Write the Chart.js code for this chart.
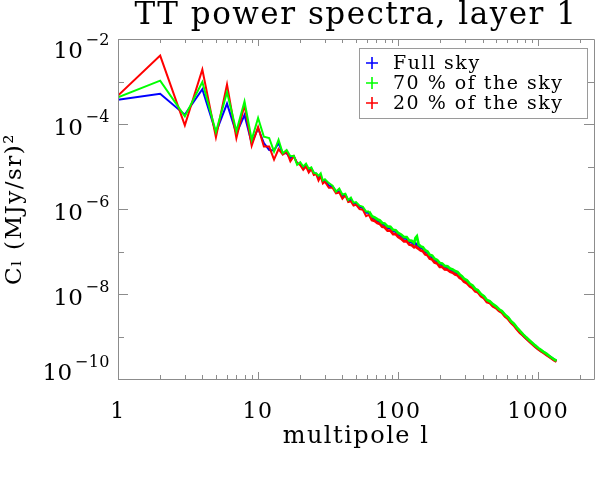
<!DOCTYPE html>
<html>
<head>
<meta charset="utf-8">
<script src="https://cdn.jsdelivr.net/npm/chart.js@4.4.1/dist/chart.umd.min.js"></script>
<style>
  html, body { margin: 0; padding: 0; background: #ffffff; }
  #wrap { width: 598px; height: 481px; }
</style>
</head>
<body>
<div id="wrap"><canvas id="c" width="598" height="481"></canvas></div>
<script>
// ---------- data ----------
const multipoles = [
  1,2,3,4,5,6,7,8,9,10,11,12,13,14,15,16,17,18,19,20,21,22,23,24,25,26,27,28,29,30,
  32,34,36,38,40,42,44,46,48,50,
  53,56,59,62,65,68,71,74,77,80,
  84,88,92,96,100,105,110,115,120,125,
  130,133,136,140,145,150,156,162,168,175,
  182,190,198,206,215,225,235,245,255,265,
  275,285,295,310,325,340,355,370,390,410,
  430,450,475,500,525,550,580,610,640,670,
  700,740,780,820,860,900,950,1000,1050,1100,
  1150,1200,1250,1300,1350
];

const fullSky = [
  3.72e-4,5.13e-4,1.66e-4,6.61e-4,6.31e-5,3.02e-4,6.03e-5,1.62e-4,3.55e-5,7.94e-5,
  3.55e-5,2.45e-5,2.40e-5,3.55e-5,2.04e-5,2.04e-5,1.58e-5,1.74e-5,1.20e-5,1.17e-5,
  9.33e-6,1.05e-5,8.32e-6,8.91e-6,7.08e-6,6.76e-6,5.50e-6,6.03e-6,4.37e-6,4.68e-6,
  3.55e-6,3.39e-6,2.63e-6,2.63e-6,2.04e-6,2.14e-6,1.62e-6,1.66e-6,1.32e-6,1.38e-6,
  1.12e-6,1.05e-6,8.13e-7,8.13e-7,6.31e-7,5.89e-7,5.37e-7,5.01e-7,4.37e-7,4.27e-7,
  3.63e-7,3.55e-7,3.02e-7,2.95e-7,2.57e-7,2.34e-7,2.04e-7,2.04e-7,1.70e-7,1.66e-7,
  1.48e-7,1.55e-7,1.45e-7,1.35e-7,1.23e-7,1.17e-7,1.00e-7,9.33e-8,7.76e-8,7.41e-8,
  6.31e-8,5.89e-8,5.01e-8,4.90e-8,4.27e-8,4.17e-8,3.72e-8,3.55e-8,3.24e-8,3.09e-8,
  2.69e-8,2.45e-8,2.14e-8,1.95e-8,1.62e-8,1.48e-8,1.23e-8,1.15e-8,9.33e-9,8.32e-9,
  6.76e-9,6.46e-9,5.37e-9,4.90e-9,4.17e-9,3.80e-9,3.09e-9,2.69e-9,2.19e-9,1.91e-9,
  1.58e-9,1.29e-9,1.07e-9,9.12e-10,7.94e-10,6.92e-10,5.89e-10,5.13e-10,4.57e-10,4.17e-10,
  3.72e-10,3.39e-10,3.09e-10,2.82e-10,2.63e-10
];

const sky70 = [
  4.27e-4,1.05e-3,1.51e-4,9.77e-4,6.46e-5,5.62e-4,6.76e-5,3.39e-4,4.27e-5,1.38e-4,
  5.01e-5,4.68e-5,2.24e-5,4.27e-5,2.04e-5,2.45e-5,1.74e-5,1.78e-5,1.10e-5,1.26e-5,
  1.00e-5,1.17e-5,8.91e-6,9.55e-6,7.08e-6,6.92e-6,6.03e-6,6.92e-6,4.68e-6,5.01e-6,
  4.07e-6,3.55e-6,2.57e-6,3.02e-6,2.19e-6,2.29e-6,1.62e-6,1.86e-6,1.41e-6,1.45e-6,
  1.20e-6,1.12e-6,8.71e-7,8.71e-7,6.76e-7,6.31e-7,5.75e-7,5.37e-7,4.68e-7,4.57e-7,
  3.89e-7,3.80e-7,3.24e-7,3.16e-7,2.75e-7,2.51e-7,2.19e-7,2.19e-7,1.82e-7,1.78e-7,
  1.58e-7,2.09e-7,2.29e-7,1.45e-7,1.32e-7,1.26e-7,1.07e-7,1.00e-7,8.32e-8,7.94e-8,
  6.76e-8,6.31e-8,5.37e-8,5.25e-8,4.57e-8,4.47e-8,3.98e-8,3.80e-8,3.47e-8,3.31e-8,
  2.88e-8,2.63e-8,2.29e-8,2.09e-8,1.74e-8,1.58e-8,1.32e-8,1.23e-8,1.00e-8,8.91e-9,
  7.24e-9,6.76e-9,5.75e-9,5.13e-9,4.37e-9,3.98e-9,3.24e-9,2.82e-9,2.29e-9,2.00e-9,
  1.66e-9,1.35e-9,1.12e-9,9.55e-10,8.32e-10,7.24e-10,6.17e-10,5.37e-10,4.79e-10,4.27e-10,
  3.89e-10,3.47e-10,3.16e-10,2.88e-10,2.69e-10
];

const sky20 = [
  4.68e-4,4.07e-3,9.33e-5,1.91e-3,4.90e-5,8.51e-4,4.68e-5,2.82e-4,3.09e-5,8.51e-5,
  2.95e-5,2.95e-5,1.45e-5,2.57e-5,1.91e-5,2.24e-5,1.32e-5,1.74e-5,1.20e-5,1.07e-5,
  8.32e-6,1.00e-5,7.24e-6,8.71e-6,6.31e-6,6.61e-6,4.68e-6,5.89e-6,3.98e-6,4.37e-6,
  3.16e-6,3.16e-6,2.34e-6,2.45e-6,1.74e-6,2.09e-6,1.45e-6,1.51e-6,1.20e-6,1.26e-6,
  1.00e-6,9.55e-7,6.76e-7,7.41e-7,5.50e-7,5.25e-7,4.68e-7,4.47e-7,3.80e-7,3.72e-7,
  3.09e-7,3.09e-7,2.57e-7,2.57e-7,2.19e-7,2.00e-7,1.74e-7,1.74e-7,1.45e-7,1.41e-7,
  1.26e-7,1.32e-7,1.23e-7,1.15e-7,1.05e-7,1.02e-7,8.51e-8,8.13e-8,6.76e-8,6.46e-8,
  5.50e-8,5.25e-8,4.37e-8,4.37e-8,3.80e-8,3.72e-8,3.31e-8,3.16e-8,2.88e-8,2.75e-8,
  2.40e-8,2.24e-8,1.95e-8,1.78e-8,1.51e-8,1.38e-8,1.15e-8,1.10e-8,8.91e-9,7.94e-9,
  6.46e-9,6.17e-9,5.13e-9,4.68e-9,3.98e-9,3.63e-9,2.95e-9,2.57e-9,2.09e-9,1.82e-9,
  1.51e-9,1.23e-9,1.05e-9,8.91e-10,7.76e-10,6.76e-10,5.75e-10,5.01e-10,4.47e-10,4.07e-10,
  3.63e-10,3.31e-10,3.02e-10,2.75e-10,2.57e-10
];

const seriesLabels = ['Full sky', '70 % of the sky', '20 % of the sky'];
const seriesColors = ['#0000ff', '#00ff00', '#ff0000'];

const xTickValues = [1, 10, 100, 1000];
const xTickLabels = ['1', '10', '100', '1000'];
const yTickValues = [1e-10, 1e-8, 1e-6, 1e-4, 1e-2];
const yTickBase = '10';
const yTickExponents = ['\u221210', '\u22128', '\u22126', '\u22124', '\u22122'];

const titleText = 'TT power spectra, layer 1';
const xTitle = 'multipole l';
const yTitle = 'C\u2097 (MJy/sr)\u00B2';

// ---------- styling ----------
const FONT = "'DejaVu Serif', serif";
const FRAME = '#8c8c8c';
const SPACING = '1.5px';

const allSeries = [fullSky, sky70, sky20];
const drawOrder = [3, 1, 2]; // blue underneath, red, green on top
const datasets = allSeries.map((vals, i) => ({
  label: seriesLabels[i],
  data: multipoles.map((l, j) => ({ x: l, y: vals[j] })),
  borderColor: seriesColors[i],
  backgroundColor: seriesColors[i],
  borderWidth: 2,
  segment: { borderWidth: (c) => (c.p0.parsed.x >= 60 ? 2.7 : 2) },
  pointRadius: 0,
  tension: 0,
  fill: false,
  order: drawOrder[i]
}));

// wide letter spacing like the original vector font
const spacingPlugin = {
  id: 'spacing',
  beforeInit(chart) { chart.ctx.letterSpacing = SPACING; },
  beforeDraw(chart) { chart.ctx.letterSpacing = SPACING; }
};

// inward tick marks + frame (IDL style box)
const framePlugin = {
  id: 'frame',
  afterDatasetsDraw(chart) {
    const { ctx, chartArea: a, scales } = chart;
    const xs = scales.x, ys = scales.y;
    ctx.save();
    ctx.strokeStyle = FRAME;
    ctx.lineWidth = 1;
    ctx.beginPath();
    ctx.rect(Math.round(a.left) + 0.5, Math.round(a.top) + 0.5,
             Math.round(a.right - a.left), Math.round(a.bottom - a.top));
    ctx.stroke();
    const xMin = xs.min, xMax = xs.max;
    for (let d = 1; d <= xMax; d *= 10) {
      for (let k = 1; k <= 9; k++) {
        const v = d * k;
        if (v < xMin || v > xMax) continue;
        const px = Math.round(xs.getPixelForValue(v)) + 0.5;
        const len = k === 1 ? 7 : 4;
        ctx.beginPath();
        ctx.moveTo(px, a.bottom); ctx.lineTo(px, a.bottom - len);
        ctx.moveTo(px, a.top); ctx.lineTo(px, a.top + len);
        ctx.stroke();
      }
    }
    for (let e = -10; e <= -2; e++) {
      const py = Math.round(ys.getPixelForValue(Math.pow(10, e))) + 0.5;
      const len = (e % 2 === 0) ? 10 : 6;
      ctx.beginPath();
      ctx.moveTo(a.left, py); ctx.lineTo(a.left + len, py);
      ctx.moveTo(a.right, py); ctx.lineTo(a.right - len, py);
      ctx.stroke();
    }
    ctx.restore();
  }
};

// y tick labels as 10 with a real superscript exponent
const yLabelPlugin = {
  id: 'yLabels',
  afterDraw(chart) {
    const { ctx, chartArea: a, scales } = chart;
    const ys = scales.y;
    ctx.save();
    ctx.letterSpacing = '0.5px';
    ctx.fillStyle = '#000000';
    ctx.textAlign = 'right';
    ctx.textBaseline = 'alphabetic';
    const xRight = a.left - 8;
    yTickValues.forEach((v, i) => {
      const ty = ys.getPixelForValue(v);
      const cy = Math.min(Math.max(ty + 2, a.top + 10), a.bottom - 8);
      const base = cy + 8.5;
      ctx.font = '16px ' + FONT;
      const supW = ctx.measureText(yTickExponents[i]).width;
      ctx.fillText(yTickExponents[i], xRight, base - 12.5);
      ctx.font = '23px ' + FONT;
      ctx.fillText(yTickBase, xRight - supW - 2, base);
    });
    ctx.restore();
  }
};

// legend drawn inside the plot, boxed, with "+" markers
const boxLegendPlugin = {
  id: 'boxLegend',
  afterDraw(chart) {
    const { ctx, chartArea: a } = chart;
    const ds = chart.data.datasets;
    const right = a.right - 7, top = a.top + 9;
    const w = 228, h = 70;
    const left = right - w;
    ctx.save();
    ctx.letterSpacing = SPACING;
    ctx.fillStyle = '#ffffff';
    ctx.fillRect(left, top, w, h);
    ctx.strokeStyle = '#9a9a9a';
    ctx.lineWidth = 1;
    ctx.strokeRect(Math.round(left) + 0.5, Math.round(top) + 0.5, w, h);
    ctx.font = "19px " + FONT;
    ctx.textBaseline = 'middle';
    ctx.textAlign = 'left';
    ds.forEach((d, i) => {
      const cy = top + 15 + i * 20;
      const mx = left + 13;
      ctx.strokeStyle = d.borderColor;
      ctx.lineWidth = 1.6;
      ctx.beginPath();
      ctx.moveTo(mx - 6, cy); ctx.lineTo(mx + 6, cy);
      ctx.moveTo(mx, cy - 6); ctx.lineTo(mx, cy + 6);
      ctx.stroke();
      ctx.fillStyle = '#000000';
      ctx.fillText(d.label, left + 34, cy + 1);
    });
    ctx.restore();
  }
};

new Chart(document.getElementById('c'), {
  type: 'line',
  data: { datasets },
  options: {
    responsive: false,
    animation: false,
    events: [],
    layout: { padding: { left: 0, right: 4, top: 0, bottom: 0 } },
    plugins: {
      legend: { display: false },
      tooltip: { enabled: false },
      title: {
        display: true,
        fullSize: false,
        text: titleText,
        color: '#000000',
        font: { family: FONT, size: 31, weight: 'normal', lineHeight: 1 },
        padding: { top: 0, bottom: 8 }
      }
    },
    scales: {
      x: {
        type: 'logarithmic',
        min: 1,
        max: 2500,
        grid: { display: false },
        border: { display: false },
        afterBuildTicks: (s) => { s.ticks = xTickValues.map(v => ({ value: v })); },
        afterFit: (s) => { s.height = 102; },
        ticks: {
          autoSkip: false,
          maxRotation: 0,
          padding: 12,
          color: '#000000',
          font: { family: FONT, size: 22 },
          callback: (v) => { const i = xTickValues.indexOf(v); return i >= 0 ? xTickLabels[i] : ''; }
        },
        title: {
          display: true,
          text: xTitle,
          color: '#000000',
          font: { family: FONT, size: 24 },
          padding: { top: 0, bottom: 30 }
        }
      },
      y: {
        type: 'logarithmic',
        min: 1e-10,
        max: 1e-2,
        grid: { display: false },
        border: { display: false },
        afterBuildTicks: (s) => { s.ticks = yTickValues.map(v => ({ value: v })); },
        afterFit: (s) => { s.width = 118; },
        ticks: { display: false },
        title: {
          display: true,
          text: yTitle,
          color: '#000000',
          font: { family: FONT, size: 23 },
          padding: { top: 1, bottom: 0 }
        }
      }
    }
  },
  plugins: [spacingPlugin, framePlugin, yLabelPlugin, boxLegendPlugin]
});
</script>
</body>
</html>
